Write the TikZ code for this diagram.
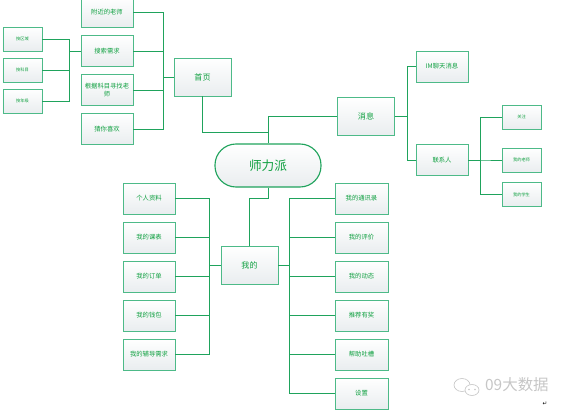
\documentclass[tikz,border=0pt]{standalone}
\usepackage{fontspec}
\setmainfont{Noto Sans CJK SC}
\newfontfamily\symfont{DejaVu Sans}
\definecolor{edgegreen}{HTML}{4DBA88}
\definecolor{linegreen}{HTML}{1FA35C}
\definecolor{textgreen}{HTML}{0FA040}
\definecolor{boxgray}{HTML}{E9EDEF}
\begin{document}
\begin{tikzpicture}[x=0.5mm,y=-0.5mm,
  box/.style={draw=edgegreen,line width=1.1pt,top color=white,bottom color=boxgray,
    text=textgreen,font=\fontsize{9}{11}\selectfont,inner sep=0pt,align=center,
    minimum width=26mm,minimum height=15.5mm},
  mainbox/.style={box,minimum width=28.5mm,minimum height=19mm,font=\fontsize{11.5}{13}\selectfont},
  tinybox/.style={box,minimum width=19.5mm,minimum height=12mm,font=\fontsize{6}{7}\selectfont},
  link/.style={draw=linegreen,line width=1pt}]
  \useasboundingbox (0,0) rectangle (565,412);
  % centre
  \node[box,line width=1.6pt,draw=linegreen,rounded corners=10.5mm,minimum width=53mm,
    minimum height=21.5mm,font=\fontsize{18}{20}\selectfont] (root) at (268,165.5) {师力派};
  \node[mainbox] (home) at (202.5,77) {首页};
  \node[mainbox] (msg) at (366,116.5) {消息};
  \node[mainbox] (me) at (249.5,265) {我的};
  % home branch
  \node[box] (h1) at (107,12) {附近的老师};
  \node[box] (h2) at (107,51) {搜索需求};
  \node[box] (h3) at (107,90) {根据科目寻找老\\师};
  \node[box] (h4) at (107,129) {猜你喜欢};
  \node[tinybox] (s1) at (22.5,39) {按区域};
  \node[tinybox] (s2) at (22.5,70) {按科目};
  \node[tinybox] (s3) at (22.5,101) {按年级};
  % message branch
  \node[box] (im) at (442,66.5) {IM聊天消息};
  \node[box] (con) at (442,160) {联系人};
  \node[tinybox] (k1) at (521.5,117) {关注};
  \node[tinybox] (k2) at (521.5,160) {我的老师};
  \node[tinybox] (k3) at (521.5,194.5) {我的学生};
  % my branch
  \foreach \t [count=\i] in {个人资料,我的课表,我的订单,我的钱包,我的辅导需求}
    \node[box] (L\i) at (149,159.5+39*\i) {\t};
  \foreach \t [count=\i] in {我的通讯录,我的评价,我的动态,推荐有奖,帮助吐槽,设置}
    \node[box,minimum width=26.5mm] (R\i) at (361.5,159.5+39*\i) {\t};
  % junctions
  \coordinate (jsm) at (69,51);
  \coordinate (jhome) at (163,77);
  \coordinate (jtop) at (268,132);
  \coordinate (jmsg) at (407,116.5);
  \coordinate (jcon) at (480,160);
  \coordinate (jme) at (268,198);
  \coordinate (jml) at (209,265);
  \coordinate (jmr) at (289,265);
  % connectors
  \foreach \n in {s1,s2,s3} \draw[link] (\n.east) -| (jsm) -- (h2.west);
  \foreach \n in {h1,h2,h3,h4} \draw[link] (\n.east) -| (jhome) -- (home.west);
  \draw[link] (home.south) |- (jtop) -- (root.north);
  \draw[link] (msg.west) -| (jtop);
  \foreach \n in {im,con} \draw[link] (msg.east) -- (jmsg) |- (\n.west);
  \foreach \n in {k1,k2,k3} \draw[link] (con.east) -- (jcon) |- (\n.west);
  \draw[link] (root.south) -- (jme) -| (me.north);
  \foreach \i in {1,...,5} \draw[link] (L\i.east) -| (jml) -- (me.west);
  \foreach \i in {1,...,6} \draw[link] (me.east) -- (jmr) |- (R\i.west);
  % watermark
  \draw[gray!45,line width=0.9pt] (462,385) ellipse (8 and 6.5);
  \draw[gray!45,line width=0.9pt,fill=white] (472,390) ellipse (7 and 5.5);
  \fill[gray!45] (469,389.5) circle (0.9) (475,389.5) circle (0.9);
  \node[gray!45,font=\fontsize{22}{24}\selectfont,anchor=west,inner sep=0pt] (mark) at (485,385) {09大数据};
  \node[font=\symfont\fontsize{8}{9}\selectfont,inner sep=0pt] (ret) at (545,404) {↵};
\end{tikzpicture}
\end{document}
